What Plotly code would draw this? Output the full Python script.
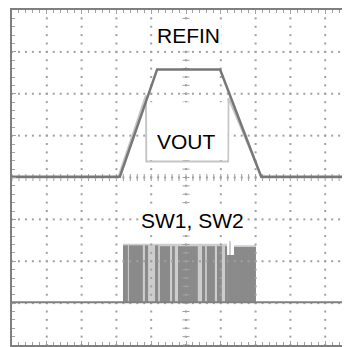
import numpy as np
import plotly.graph_objects as go

# ---- data (scope divisions: x 0..10 time, y -4..4) ----
refin_t = [0.0, 3.10, 4.17, 5.98, 7.16, 9.95]
refin_v = [0.02, 0.02, 2.58, 2.58, 0.02, 0.02]

vout_t = [0.0, 3.05, 3.85, 3.86, 6.21, 6.22, 7.18, 9.95]
vout_v = [0.0, 0.0, 1.96, 0.38, 0.38, 1.9, 0.0, 0.0]

sw_base = -2.98
sw_base_t = [0.0, 9.95]

sw_light_start = [3.19, 6.38, 6.26]
sw_light_end = [6.18, 7.01, 6.29]
sw_light_top = [-1.58, -1.62, -1.52]

sw_start = [3.19, 3.36, 3.82, 4.11, 4.25, 4.60, 4.77, 5.46, 5.60, 5.89, 6.12, 6.18, 6.38]
sw_end = [3.33, 3.76, 3.91, 4.20, 4.54, 4.68, 5.34, 5.55, 5.83, 6.03, 6.18, 6.38, 7.01]
sw_top = [-1.62, -1.62, -1.62, -1.62, -1.64, -1.64, -1.64, -1.64, -1.64, -1.64, -1.64, -1.85, -1.66]

labels = ["REFIN", "VOUT", "SW1, SW2"]
label_x = [5.06, 5.0, 5.20]
label_y = [3.39, 0.87, -1.03]

XMAX = 346 / 34.8
GRID = "#a0a0a0"
FRAME = "#7f7f7f"

fig = go.Figure()

# dotted graticule
gx, gy = [], []
for yl in range(-3, 4):
    xs = np.arange(0, 10.01, 0.2)
    gx += list(xs); gy += [yl] * len(xs)
for xl in range(1, 10):
    ys = np.arange(-4, 4.01, 0.2)
    gx += [xl] * len(ys); gy += list(ys)
fig.add_trace(go.Scatter(x=gx, y=gy, mode="markers", hoverinfo="skip",
                         marker=dict(symbol="square", size=2, color=GRID, line_width=0)))
# center axis ticks
cx = np.arange(0, 10.01, 0.2)
fig.add_trace(go.Scatter(x=cx, y=[0] * len(cx), mode="markers", hoverinfo="skip",
                         marker=dict(symbol="line-ns", size=5, line=dict(color=GRID, width=1))))
cy = np.arange(-4, 4.01, 0.2)
fig.add_trace(go.Scatter(x=[5] * len(cy), y=cy, mode="markers", hoverinfo="skip",
                         marker=dict(symbol="line-ew", size=5, line=dict(color=GRID, width=1))))

# SW1, SW2 burst
def bars(starts, ends, tops, color):
    s = np.array(starts); e = np.array(ends); t = np.array(tops)
    return go.Bar(x=(s + e) / 2, width=e - s, y=t - sw_base, base=sw_base,
                  marker=dict(color=color, line_width=0), hoverinfo="skip")

fig.add_trace(bars(sw_light_start, sw_light_end, sw_light_top, "#cdcdcd"))
fig.add_trace(bars(sw_start, sw_end, sw_top, "#8a8a8a"))
fig.add_trace(go.Scatter(x=sw_base_t, y=[sw_base, sw_base], mode="lines",
                         line=dict(color="#808080", width=2), hoverinfo="skip"))

# VOUT and REFIN
fig.add_trace(go.Scatter(x=vout_t, y=vout_v, mode="lines",
                         line=dict(color="#c6c6c6", width=2), hoverinfo="skip"))
fig.add_trace(go.Scatter(x=refin_t, y=refin_v, mode="lines",
                         line=dict(color="#777777", width=2.5), hoverinfo="skip"))

# channel marker on the left
fig.add_trace(go.Scatter(x=[-0.09], y=[sw_base], mode="markers", cliponaxis=False,
                         marker=dict(symbol="triangle-right", size=6, color="#444"),
                         hoverinfo="skip"))

# white box behind VOUT label
fig.add_shape(type="rect", x0=3.90, x1=6.19, y0=0.42, y1=1.80, layer="above",
              fillcolor="white", line_width=0)

for t, x, y in zip(labels, label_x, label_y):
    fig.add_annotation(x=x, y=y, text=t, showarrow=False, xanchor="center", yanchor="middle",
                       font=dict(family="Liberation Sans, Arial", size=21, color="black"),
                       bgcolor="white", borderpad=1)

fig.update_layout(
    width=350, height=347, margin=dict(l=4, r=0, t=0, b=10),
    paper_bgcolor="white", plot_bgcolor="white", showlegend=False, barmode="overlay",
    xaxis=dict(range=[0, XMAX], showgrid=False, zeroline=False, showticklabels=False,
               showline=True, linecolor=FRAME, linewidth=2, mirror="ticks",
               ticks="inside", dtick=1, tick0=0, ticklen=4, tickcolor=GRID,
               minor=dict(dtick=0.2, ticks="inside", ticklen=3, tickcolor=GRID)),
    yaxis=dict(range=[-4, 4], showgrid=False, zeroline=False, showticklabels=False,
               showline=True, linecolor=FRAME, linewidth=2, mirror=False,
               ticks="inside", dtick=1, tick0=0, ticklen=4, tickcolor=GRID,
               minor=dict(dtick=0.2, ticks="inside", ticklen=3, tickcolor=GRID)),
)

fig.write_html("out.html")
